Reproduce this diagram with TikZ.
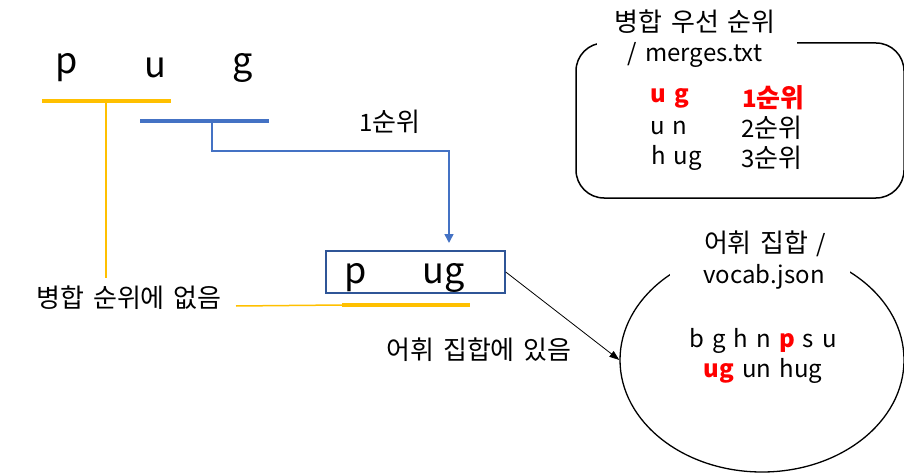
\documentclass[tikz,border=0pt]{standalone}
\usepackage{fontspec}
\setmainfont[WordSpace=1.5]{Noto Sans CJK KR}
\usetikzlibrary{arrows.meta,shapes.geometric}
\definecolor{ayellow}{HTML}{FFC000}
\definecolor{ablue}{HTML}{4472C4}
\definecolor{adark}{HTML}{2F5597}
\definecolor{ared}{HTML}{FF0000}
\newcommand\kr[1]{{\fontsize{26}{30}\selectfont #1}}
\begin{document}
\begin{tikzpicture}[x=1pt,y=-1pt,
  txt/.style={inner sep=1pt,font=\fontsize{24}{28}\selectfont},
  big/.style={inner sep=1pt,font=\fontsize{36}{40}\selectfont},
  ybar/.style={ayellow,line width=4pt},
  bbar/.style={ablue,line width=4pt},
  yline/.style={ayellow,line width=1.5pt},
  bline/.style={ablue,line width=1.5pt},
  hl/.style={text=ared,font=\fontsize{24}{28}\selectfont\bfseries}]
\useasboundingbox (0,0) rectangle (904,473);
% top letters
\node[big] (p1) at (67,68) {p};
\node[big] (u1) at (155,68) {u};
\node[big] (g1) at (243,68) {g};
% bars
\coordinate (ya) at (42,101); \coordinate (yb) at (171,101);
\draw[ybar] (ya) -- (yb);
\coordinate (ba) at (140,121); \coordinate (bb) at (269,121);
\draw[bbar] (ba) -- (bb);
% box
\node[draw=adark,line width=1.5pt,minimum width=179pt,minimum height=42pt,inner sep=0pt] (box) at (415.5,272) {};
\node[big] (p2) at (356,278) {p};
\node[big] (ug2) at (444,278) {ug};
\coordinate (yc) at (342,305); \coordinate (yd) at (470,305);
\draw[ybar] (yc) -- (yd);
% labels
\node[txt] (rank1) at (390,122) {1\kr{순위}};
\node[txt] (notin) at (129,298) {\kr{병합 순위에 없음}};
\node[txt] (isin) at (479,350) {\kr{어휘 집합에 있음}};
% yellow connectors
\coordinate (yv) at (106,101);
\draw[yline] (yv) -- (106,278);
\draw[yline] (236,306) -- (yc);
% blue connector
\coordinate (bv) at (212,121);
\draw[bline,-{Triangle[length=9pt,width=9pt]}] (bv) -- (212,151) -- (449,151) -- (449,243);
% rounded rectangle
\draw[line width=1.5pt,rounded corners=28pt] (576,43) rectangle (904,198);
\fill[white] (597,30) rectangle (797,60);
\node[txt] (mt1) at (695,22) {\kr{병합 우선 순위}};
\node[txt] (mt2) at (695,55) {/ merges.txt};
\node[txt,hl,anchor=west] (r1a) at (649,98) {u g};
\node[txt,hl,anchor=west] (r1b) at (741,98) {1\kr{순위}};
\node[txt,anchor=west] (r2a) at (649,128) {u n};
\node[txt,anchor=west] (r2b) at (740,128) {2\kr{순위}};
\node[txt,anchor=west] (r3a) at (650,158) {h ug};
\node[txt,anchor=west] (r3b) at (740,158) {3\kr{순위}};
% ellipse
\node[draw,line width=1.3pt,ellipse,minimum width=284pt,minimum height=224pt,inner sep=0pt] (vocab) at (762,360) {};
\fill[white] (670,225) rectangle (850,290);
\node[txt] (vt1) at (765,244) {\kr{어휘 집합} /};
\node[txt] (vt2) at (764,277) {vocab.json};
\node[txt] (v1) at (763,341) {b g h n {\color{ared}\bfseries p} s u};
\node[txt] (v2) at (763,371) {{\color{ared}\bfseries ug} un hug};
% arrow to vocab
\draw[line width=0.8pt,-{Triangle[length=10pt,width=7pt]}] (box.east) -- (vocab.west);
\end{tikzpicture}
\end{document}
